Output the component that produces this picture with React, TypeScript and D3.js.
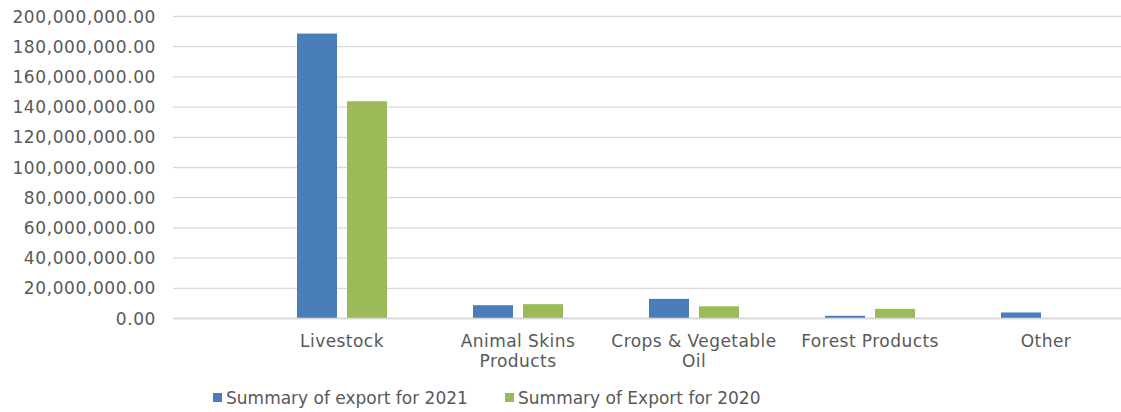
import React from "react";
import * as d3 from "d3";

const categories = ["Livestock", "Animal Skins Products", "Crops & Vegetable Oil", "Forest Products", "Other"];
const categoryLines = [["Livestock"], ["Animal Skins", "Products"], ["Crops & Vegetable", "Oil"], ["Forest Products"], ["Other"]];
const seriesNames = ["Summary of export for 2021", "Summary of Export for 2020"];
const export2021 = [188.7e6, 8.8e6, 13.0e6, 1.8e6, 4.0e6];
const export2020 = [143.9e6, 9.5e6, 8.1e6, 6.4e6, 0.3e6];
const yTicks = [0, 20e6, 40e6, 60e6, 80e6, 100e6, 120e6, 140e6, 160e6, 180e6, 200e6];
const colors = ["#4a7ebb", "#9bbb59"];

const W = 1121;
const H = 412;
const FONT = "'DejaVu Sans', sans-serif";
const TEXT = "#595959";

export default function App() {
  const y = d3.scaleLinear().domain([0, 200e6]).range([318.5, 16.5]);
  const x0 = d3.scaleBand<string>().domain(categories).range([254, 1134]).padding(0);
  const x1 = d3.scaleBand<string>().domain(seriesNames).range([0, x0.bandwidth()]).paddingInner(0.2).paddingOuter(0.86);
  const fmt = d3.format(",.2f");
  const data = [export2021, export2020];

  return (
    <svg width={W} height={H} style={{ position: "absolute", left: 0, top: 0, background: "#fff" }} fontFamily={FONT}>
      {yTicks.map((t) => (
        <g key={t}>
          <line x1={173} x2={W} y1={y(t)} y2={y(t)} stroke="#d9d9d9" strokeWidth={1.3} />
          <text x={156} y={y(t) + 6} textAnchor="end" fontSize={17} fill={TEXT} letterSpacing={0.6}>
            {fmt(t)}
          </text>
        </g>
      ))}
      {categories.map((c, i) => (
        <g key={c}>
          {seriesNames.map((s, j) => {
            const v = data[j][i];
            return (
              <rect
                key={s}
                x={(x0(c) ?? 0) + (x1(s) ?? 0)}
                width={x1.bandwidth()}
                y={y(v)}
                height={y(0) - y(v)}
                fill={colors[j]}
              />
            );
          })}
          {categoryLines[i].map((ln, k) => (
            <text
              key={k}
              x={(x0(c) ?? 0) + x0.bandwidth() / 2}
              y={347 + k * 19.5}
              textAnchor="middle"
              fontSize={17}
              fill={TEXT}
              letterSpacing={0.45}
            >
              {ln}
            </text>
          ))}
        </g>
      ))}
      <line x1={173} x2={W} y1={y(0)} y2={y(0)} stroke="#d9d9d9" strokeWidth={1.3} />
      {seriesNames.map((s, j) => {
        const lx = [213, 505][j];
        return (
          <g key={s}>
            <rect x={lx} y={393} width={9} height={9} fill={colors[j]} />
            <text x={lx + 13} y={404} fontSize={17} fill={TEXT}>
              {s}
            </text>
          </g>
        );
      })}
    </svg>
  );
}
